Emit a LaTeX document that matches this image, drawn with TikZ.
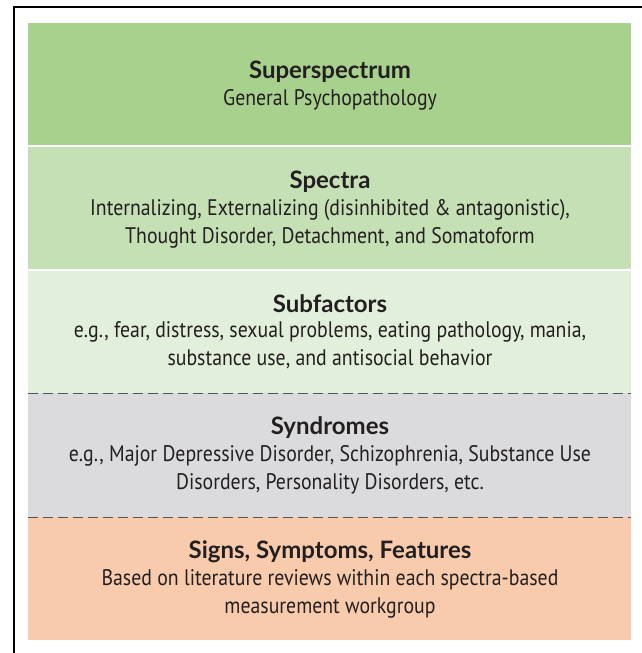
\documentclass[tikz,border=0pt]{standalone}
\usepackage{fontspec}
\setmainfont{PT Sans}
\newfontfamily\bodyfont[FakeStretch=0.88]{PT Sans}
\newfontfamily\headfont{Lato}
\definecolor{superg}{HTML}{A9D18E}
\definecolor{specg}{HTML}{C5E0B4}
\definecolor{subg}{HTML}{E2EFDA}
\definecolor{syng}{HTML}{DBDBDD}
\definecolor{signo}{HTML}{F8CBAD}
\definecolor{txt}{HTML}{231F20}
\definecolor{dashc}{HTML}{555555}
\tikzset{
  band/.style={fill=#1, draw=none},
  headtxt/.style={text=txt, font={\headfont\bfseries\fontsize{24}{28}\selectfont}, inner sep=0pt},
  bodytxt/.style={text=txt, font={\bodyfont\fontsize{22.5}{28}\selectfont}, align=center, inner sep=0pt},
  sepline/.style={draw=dashc, line width=1pt, dash pattern=on 10pt off 5pt},
  frameline/.style={draw=black, line width=1.3pt}
}
\begin{document}
\begin{tikzpicture}[x=1pt,y=-1pt]
\useasboundingbox (0,0) rectangle (642,653);
% frame
\coordinate (fr-bl) at (14,653);
\coordinate (fr-tl) at (14,7);
\coordinate (fr-tr) at (642,7);
\draw[frameline] (fr-bl) -- (fr-tl) -- (fr-tr);
% bands
\fill[band=superg] (27.5,23) rectangle (631,145);
\fill[band=specg] (27.5,147) rectangle (631,269);
\fill[band=subg] (27.5,270.5) rectangle (631,393);
\fill[band=syng] (27.5,393) rectangle (631,517);
\fill[band=signo] (27.5,517) rectangle (631,640);
\coordinate (d1l) at (27.5,393);
\coordinate (d1r) at (631,393);
\coordinate (d2l) at (27.5,517);
\coordinate (d2r) at (631,517);
\draw[sepline] (d1l) -- (d1r);
\draw[sepline] (d2l) -- (d2r);
% texts
\node[headtxt] (h1) at (330,71.5) {Superspectrum};
\node[bodytxt] (b1) at (330,99.5) {General Psychopathology};
\node[headtxt] (h2) at (330,181.5) {Spectra};
\node[bodytxt] (b2) at (330,223.5) {Internalizing, Externalizing (disinhibited \& antagonistic),\\Thought Disorder, Detachment, and Somatoform};
\node[headtxt] (h3) at (330,303.5) {Subfactors};
\node[bodytxt] (b3) at (330,345.5) {e.g., fear, distress, sexual problems, eating pathology, mania,\\substance use, and antisocial behavior};
\node[headtxt] (h4) at (330,427.5) {Syndromes};
\node[bodytxt] (b4) at (330,469.5) {e.g., Major Depressive Disorder, Schizophrenia, Substance Use\\Disorders, Personality Disorders, etc.};
\node[headtxt] (h5) at (330,551.5) {Signs, Symptoms, Features};
\node[bodytxt] (b5) at (330,593.5) {Based on literature reviews within each spectra-based\\measurement workgroup};
\end{tikzpicture}
\end{document}
